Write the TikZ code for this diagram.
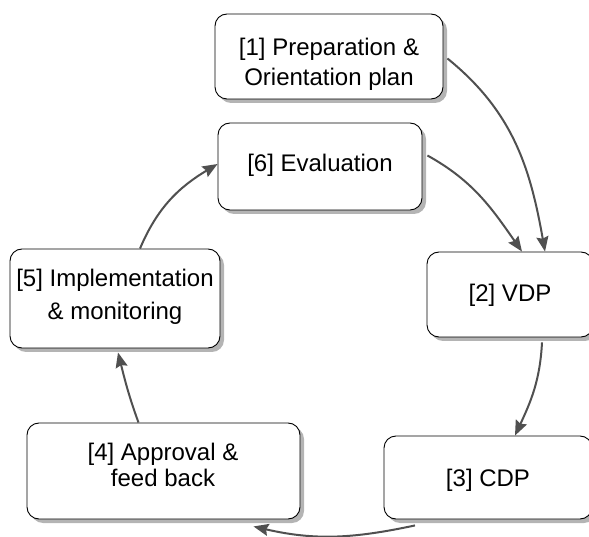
\documentclass[tikz,border=0pt]{standalone}
\usepackage{fontspec}
\setmainfont{Liberation Sans}
\usetikzlibrary{arrows.meta,shadows}
\definecolor{arr}{HTML}{505050}
\definecolor{shd}{HTML}{B4B4B4}
\tikzset{
  box/.style={draw=black, line width=0.9pt, rounded corners=12pt, fill=white,
    inner sep=0pt, drop shadow={shadow xshift=4pt, shadow yshift=-4pt, fill=shd, opacity=1}},
  txt/.style={anchor=base, inner sep=0pt, font=\fontsize{24}{28}\selectfont},
  conn/.style={draw=arr, line width=2pt, -{Stealth[length=15pt,width=12pt,inset=2pt]}}
}
\begin{document}
\begin{tikzpicture}[x=1pt,y=1pt]
\useasboundingbox (0,0) rectangle (589,536);
\clip (0,0) rectangle (589,536);
% boxes
\node[box, minimum width=228pt, minimum height=85pt] (b1) at (329,479.5) {};
\node[box, minimum width=204pt, minimum height=87pt] (b6) at (320,369.5) {};
\node[box, minimum width=166pt, minimum height=85pt] (b2) at (510,241.5) {};
\node[box, minimum width=208pt, minimum height=83pt] (b3) at (488,58.5) {};
\node[box, minimum width=210pt, minimum height=99pt] (b5) at (115,237.5) {};
\node[box, minimum width=273pt, minimum height=96pt] (b4) at (163.5,65) {};
% texts
\node[txt] (t1a) at (329,480.3) {[1] Preparation \&};
\node[txt] (t1b) at (329,450) {Orientation plan};
\node[txt] (t6) at (320,364.3) {[6] Evaluation};
\node[txt] (t2) at (510,234) {[2] VDP};
\node[txt] (t3) at (488,50) {[3] CDP};
\node[txt] (t5a) at (115,249.3) {[5] Implementation};
\node[txt] (t5b) at (115,216) {\& monitoring};
\node[txt] (t4a) at (163,76) {[4] Approval \&};
\node[txt] (t4b) at (163,50) {feed back};
% connectors
\draw[conn] ([xshift=4pt,yshift=-2pt]b1.east) to[out=-39,in=100] ([xshift=35pt]b2.north);
\draw[conn] ([xshift=5pt,yshift=11pt]b6.east) to[out=-29,in=125] ([xshift=12pt]b2.north);
\draw[conn] ([xshift=32pt,yshift=-5pt]b2.south) to[out=-93,in=65] ([xshift=27pt]b3.north);
\draw[conn] ([xshift=-73pt,yshift=-6pt]b3.south) to[out=-168,in=-13] ([xshift=90pt,yshift=-7pt]b4.south);
\draw[conn] ([xshift=-25pt]b4.north) to[out=110,in=-76] ([xshift=3pt,yshift=-4pt]b5.south);
\draw[conn] ([xshift=25pt]b5.north) to[out=67,in=211] ([yshift=2.5pt]b6.west);
\end{tikzpicture}
\end{document}
